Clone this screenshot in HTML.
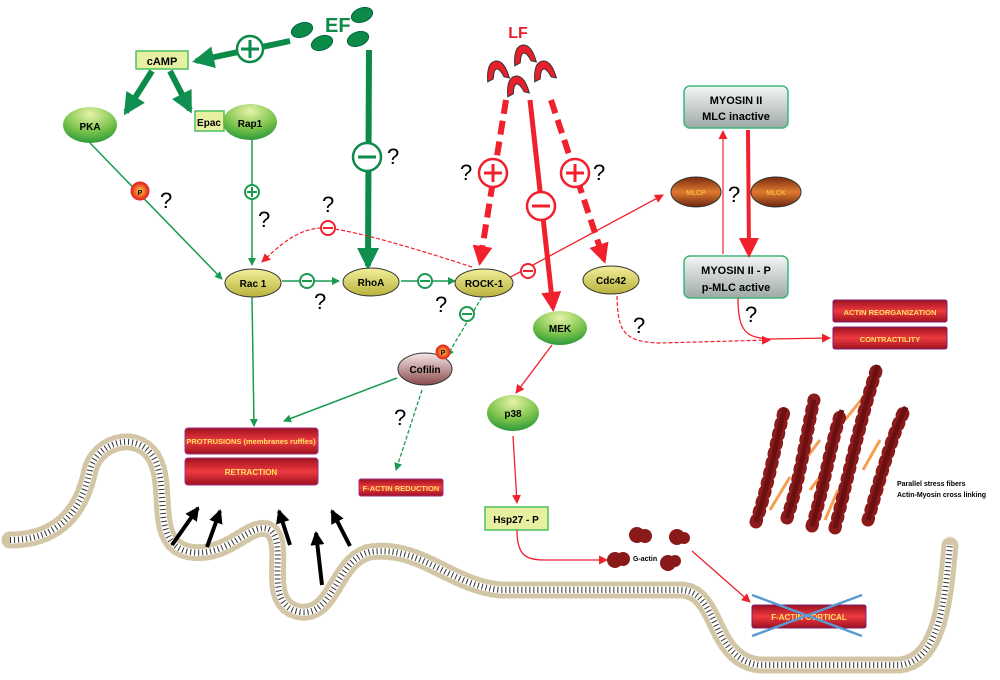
<!DOCTYPE html>
<html><head><meta charset="utf-8"><style>
body{margin:0;background:#fff}
svg{display:block;font-family:"Liberation Sans",sans-serif}
.b{font-weight:bold}
</style></head><body>
<svg width="1000" height="680" viewBox="0 0 1000 680" xmlns="http://www.w3.org/2000/svg">
<defs>
<path id="mem" d="M10,540 C50,540 80,520 90,470 C98,440 140,430 155,460 C170,490 150,545 190,552 C230,558 250,520 270,530 C290,545 260,605 300,612 C335,616 335,560 370,552 C420,545 450,585 500,590 L680,590 C720,590 710,660 760,665 L900,665 C940,660 945,600 950,545"/>
<radialGradient id="gg" cx="50%" cy="20%" r="80%"><stop offset="0" stop-color="#e6f3a8"/><stop offset="0.6" stop-color="#7cc44c"/><stop offset="1" stop-color="#2d9a3a"/></radialGradient>
<linearGradient id="yg" x1="0" y1="0" x2="0" y2="1"><stop offset="0" stop-color="#f2ef9a"/><stop offset="1" stop-color="#b8b23c"/></linearGradient>
<linearGradient id="bg" x1="0" y1="0" x2="0" y2="1"><stop offset="0" stop-color="#7a2a10"/><stop offset="0.5" stop-color="#e07a30"/><stop offset="1" stop-color="#6a2510"/></linearGradient>
<linearGradient id="rg" x1="0" y1="0" x2="0" y2="1"><stop offset="0" stop-color="#9e1020"/><stop offset="0.5" stop-color="#ee3a3f"/><stop offset="1" stop-color="#9e1020"/></linearGradient>
<linearGradient id="sg" x1="0" y1="0" x2="0" y2="1"><stop offset="0" stop-color="#f4f6f6"/><stop offset="1" stop-color="#9ea9a8"/></linearGradient>
<linearGradient id="cg" x1="0" y1="0" x2="0" y2="1"><stop offset="0" stop-color="#f6e8e8"/><stop offset="1" stop-color="#8a4a4a"/></linearGradient>
<radialGradient id="pg"><stop offset="0" stop-color="#ffd040"/><stop offset="1" stop-color="#e02020"/></radialGradient>
<marker id="ag" markerWidth="8" markerHeight="8" refX="7" refY="4" orient="auto" markerUnits="userSpaceOnUse"><path d="M0,0L8,4L0,8z" fill="#1a9a50"/></marker>
<marker id="gB" markerWidth="22" markerHeight="22" refX="18" refY="11" orient="auto" markerUnits="userSpaceOnUse"><path d="M0,0L22,11L0,22z" fill="#109050"/></marker>
<marker id="ar" markerWidth="9" markerHeight="9" refX="8" refY="4.5" orient="auto" markerUnits="userSpaceOnUse"><path d="M0,0L9,4.5L0,9z" fill="#f0202c"/></marker>
<marker id="rB" markerWidth="20" markerHeight="20" refX="16" refY="10" orient="auto" markerUnits="userSpaceOnUse"><path d="M0,0L20,10L0,20z" fill="#f0202c"/></marker>
<marker id="ak" markerWidth="14" markerHeight="14" refX="12" refY="7" orient="auto" markerUnits="userSpaceOnUse"><path d="M0,0L14,7L0,14z" fill="#000"/></marker>
</defs>

<!-- membrane -->
<g fill="none">
<use href="#mem" stroke="#ebe3cf" stroke-width="17" stroke-linecap="round"/>
<use href="#mem" stroke="#d2c6a6" stroke-width="17" stroke-dasharray="1 5" stroke-linecap="round"/>
<use href="#mem" stroke="#fff" stroke-width="7"/>
<use href="#mem" stroke="#333" stroke-width="6" stroke-dasharray="1 3"/>
</g>

<!-- EF -->
<g fill="#0b8a48" stroke="#064" stroke-width="1">
<ellipse cx="302" cy="30" rx="11" ry="7" transform="rotate(-20 302 30)"/>
<ellipse cx="322" cy="43" rx="11" ry="7" transform="rotate(-20 322 43)"/>
<ellipse cx="362" cy="15" rx="11" ry="7" transform="rotate(-20 362 15)"/>
<ellipse cx="358" cy="39" rx="11" ry="7" transform="rotate(-20 358 39)"/>
</g>
<text x="325" y="32" class="b" font-size="20" fill="#0b8a48">EF</text>

<line x1="290" y1="41" x2="196" y2="61" stroke="#0b8a48" stroke-width="6" marker-end="url(#gB)"/>
<circle cx="250" cy="49" r="13" fill="#fff" stroke="#0b8a48" stroke-width="2.5"/>
<path d="M241,49h18M250,40v18" stroke="#0b8a48" stroke-width="3"/>
<rect x="136" y="51" width="52" height="18" fill="#e6f0a0" stroke="#4cc060" stroke-width="1.5"/>
<text x="162" y="65" class="b" font-size="11" text-anchor="middle">cAMP</text>
<line x1="152" y1="71" x2="126" y2="112" stroke="#0b8a48" stroke-width="6" marker-end="url(#gB)"/>
<line x1="170" y1="71" x2="190" y2="110" stroke="#0b8a48" stroke-width="6" marker-end="url(#gB)"/>

<ellipse cx="90" cy="125" rx="27" ry="18" fill="url(#gg)"/>
<text x="90" y="130" class="b" font-size="10" text-anchor="middle">PKA</text>
<rect x="195" y="111" width="29" height="20" fill="#e6f0a0" stroke="#4cc060" stroke-width="1.5"/>
<text x="209" y="126" class="b" font-size="10" text-anchor="middle">Epac</text>
<ellipse cx="250" cy="122" rx="27" ry="18" fill="url(#gg)"/>
<text x="250" y="127" class="b" font-size="10" text-anchor="middle">Rap1</text>

<line x1="90" y1="143" x2="222" y2="279" stroke="#1a9a50" stroke-width="1.5" marker-end="url(#ag)"/>
<circle cx="140" cy="191" r="9" fill="url(#pg)" stroke="#e03020"/>
<text x="140" y="195" class="b" font-size="7" text-anchor="middle">P</text>
<text x="160" y="208" font-size="22">?</text>
<line x1="252" y1="140" x2="252" y2="265" stroke="#1a9a50" stroke-width="1.5" marker-end="url(#ag)"/>
<circle cx="252" cy="192" r="7" fill="#fff" stroke="#1a9a50" stroke-width="2"/>
<path d="M247,192h10M252,187v10" stroke="#1a9a50" stroke-width="2"/>
<text x="258" y="227" font-size="22">?</text>

<line x1="369" y1="50" x2="368" y2="266" stroke="#0b8a48" stroke-width="6" marker-end="url(#gB)"/>
<circle cx="367" cy="157" r="14" fill="#fff" stroke="#0b8a48" stroke-width="2.5"/>
<path d="M358,157h18" stroke="#0b8a48" stroke-width="3"/>
<text x="387" y="164" font-size="22">?</text>

<path d="M472,267 C420,250 360,232 328,228 C300,226 280,245 262,262" fill="none" stroke="#f0202c" stroke-width="1.2" stroke-dasharray="4 2" marker-end="url(#ar)"/>
<circle cx="328" cy="228" r="7" fill="#fff" stroke="#f0202c" stroke-width="2"/>
<path d="M323,228h10" stroke="#f0202c" stroke-width="2"/>
<text x="322" y="212" font-size="22">?</text>

<line x1="282" y1="281" x2="339" y2="281" stroke="#1a9a50" stroke-width="1.5" marker-end="url(#ag)"/>
<circle cx="307" cy="281" r="7" fill="#fff" stroke="#1a9a50" stroke-width="2"/>
<path d="M302,281h10" stroke="#1a9a50" stroke-width="2"/>
<text x="314" y="309" font-size="22">?</text>
<line x1="401" y1="281" x2="455" y2="281" stroke="#1a9a50" stroke-width="1.5" marker-end="url(#ag)"/>
<circle cx="425" cy="281" r="7" fill="#fff" stroke="#1a9a50" stroke-width="2"/>
<path d="M420,281h10" stroke="#1a9a50" stroke-width="2"/>

<ellipse cx="253" cy="283" rx="28" ry="14" fill="url(#yg)" stroke="#333"/>
<text x="253" y="287" class="b" font-size="10" text-anchor="middle">Rac 1</text>
<ellipse cx="371" cy="282" rx="28" ry="14" fill="url(#yg)" stroke="#333"/>
<text x="371" y="286" class="b" font-size="10" text-anchor="middle">RhoA</text>

<text x="518" y="38" class="b" font-size="16" fill="#e8202c" text-anchor="middle">LF</text>
<g fill="#e8202c" stroke="#333" stroke-width="1">
<path id="lfs" d="M-11,9 Q-9,-10 0,-10 Q9,-10 11,9 L6,7 Q3,-2 0,-2 Q-3,-2 -5,7 Z" transform="translate(497,71) rotate(-10)"/>
<use href="#lfs" transform="translate(27,-16)"/>
<use href="#lfs" transform="translate(47,0)"/>
<use href="#lfs" transform="translate(20,15)"/>
</g>

<line x1="506" y1="100" x2="480" y2="262" stroke="#f0202c" stroke-width="6" stroke-dasharray="14 7" marker-end="url(#rB)"/>
<circle cx="493" cy="173" r="14" fill="#fff" stroke="#f0202c" stroke-width="2.5"/>
<path d="M484,173h18M493,164v18" stroke="#f0202c" stroke-width="3"/>
<text x="460" y="180" font-size="22">?</text>
<line x1="530" y1="100" x2="553" y2="308" stroke="#f0202c" stroke-width="5" marker-end="url(#rB)"/>
<circle cx="541" cy="206" r="14" fill="#fff" stroke="#f0202c" stroke-width="2.5"/>
<path d="M532,206h18" stroke="#f0202c" stroke-width="3"/>
<line x1="551" y1="100" x2="604" y2="260" stroke="#f0202c" stroke-width="6" stroke-dasharray="14 7" marker-end="url(#rB)"/>
<circle cx="575" cy="173" r="14" fill="#fff" stroke="#f0202c" stroke-width="2.5"/>
<path d="M566,173h18M575,164v18" stroke="#f0202c" stroke-width="3"/>
<text x="593" y="180" font-size="22">?</text>

<line x1="505" y1="280" x2="663" y2="195" stroke="#f0202c" stroke-width="1.3" marker-end="url(#ar)"/>
<circle cx="528" cy="271" r="7" fill="#fff" stroke="#f0202c" stroke-width="2"/>
<path d="M523,271h10" stroke="#f0202c" stroke-width="2"/>

<ellipse cx="484" cy="283" rx="29" ry="14" fill="url(#yg)" stroke="#333"/>
<text x="484" y="287" class="b" font-size="10" text-anchor="middle">ROCK-1</text>
<ellipse cx="611" cy="280" rx="28" ry="14" fill="url(#yg)" stroke="#333"/>
<text x="611" y="284" class="b" font-size="10" text-anchor="middle">Cdc42</text>

<rect x="684" y="86" width="104" height="42" rx="6" fill="url(#sg)" stroke="#3cb878" stroke-width="1.5"/>
<text x="736" y="104" class="b" font-size="11" text-anchor="middle">MYOSIN II</text>
<text x="736" y="120" class="b" font-size="11" text-anchor="middle">MLC inactive</text>
<rect x="684" y="256" width="104" height="42" rx="6" fill="url(#sg)" stroke="#3cb878" stroke-width="1.5"/>
<text x="736" y="274" class="b" font-size="11" text-anchor="middle">MYOSIN II - P</text>
<text x="736" y="291" class="b" font-size="11" text-anchor="middle">p-MLC active</text>
<line x1="723" y1="254" x2="723" y2="131" stroke="#f0202c" stroke-width="1.2" marker-end="url(#ar)"/>
<line x1="748" y1="130" x2="749" y2="254" stroke="#f0202c" stroke-width="4" marker-end="url(#rB)"/>
<ellipse cx="696" cy="192" rx="25" ry="15" fill="url(#bg)" stroke="#333"/>
<text x="696" y="195" font-size="7" fill="#ffd040" text-anchor="middle">MLCP</text>
<ellipse cx="776" cy="192" rx="25" ry="15" fill="url(#bg)" stroke="#333"/>
<text x="776" y="195" font-size="7" fill="#ffd040" text-anchor="middle">MLCK</text>
<text x="728" y="202" font-size="22">?</text>

<path d="M738,298 C738,330 745,338 770,339 L830,338" fill="none" stroke="#f0202c" stroke-width="1.3" marker-end="url(#ar)"/>
<text x="745" y="322" font-size="22">?</text>
<path d="M617,296 C618,330 622,342 660,343 L770,340" fill="none" stroke="#f0202c" stroke-width="1.2" stroke-dasharray="4 2" marker-end="url(#ar)"/>
<text x="633" y="333" font-size="22">?</text>

<rect x="833" y="300" width="114" height="22" rx="2" fill="url(#rg)" stroke="#7a2070"/>
<text x="890" y="315" class="b" font-size="7.5" fill="#ffe060" text-anchor="middle">ACTIN REORGANIZATION</text>
<rect x="833" y="327" width="114" height="22" rx="2" fill="url(#rg)" stroke="#7a2070"/>
<text x="890" y="342" class="b" font-size="7.5" fill="#ffe060" text-anchor="middle">CONTRACTILITY</text>

<ellipse cx="560" cy="328" rx="27" ry="17" fill="url(#gg)"/>
<text x="560" y="332" class="b" font-size="10" text-anchor="middle">MEK</text>
<line x1="552" y1="345" x2="516" y2="393" stroke="#f0202c" stroke-width="1.3" marker-end="url(#ar)"/>
<ellipse cx="513" cy="413" rx="26" ry="18" fill="url(#gg)"/>
<text x="513" y="417" class="b" font-size="10" text-anchor="middle">p38</text>
<line x1="513" y1="436" x2="517" y2="503" stroke="#f0202c" stroke-width="1.3" marker-end="url(#ar)"/>
<rect x="485" y="507" width="63" height="23" fill="#e6f0a0" stroke="#4cc060" stroke-width="1.5"/>
<text x="516" y="523" class="b" font-size="10" text-anchor="middle">Hsp27 - P</text>
<path d="M517,530 C517,555 525,560 545,560 L607,560" fill="none" stroke="#f0202c" stroke-width="1.3" marker-end="url(#ar)"/>

<g fill="#8a1a1a">
<circle cx="615" cy="560" r="8"/><circle cx="623" cy="559" r="7"/>
<circle cx="637" cy="535" r="8"/><circle cx="645" cy="536" r="7"/>
<circle cx="677" cy="537" r="8"/><circle cx="684" cy="538" r="6"/>
<circle cx="668" cy="563" r="8"/><circle cx="675" cy="561" r="6"/>
</g>
<text x="633" y="561" font-size="7" class="b">G-actin</text>
<line x1="692" y1="551" x2="750" y2="602" stroke="#f0202c" stroke-width="1.3" marker-end="url(#ar)"/>
<rect x="752" y="605" width="114" height="23" rx="2" fill="url(#rg)" stroke="#7a2070"/>
<text x="809" y="620" class="b" font-size="8" fill="#ffe060" text-anchor="middle">F-ACTIN CORTICAL</text>
<line x1="752" y1="595" x2="862" y2="636" stroke="#5a9ad0" stroke-width="2.5"/>
<line x1="752" y1="636" x2="862" y2="595" stroke="#5a9ad0" stroke-width="2.5"/>

<g stroke="#f5a050" stroke-width="3">
<line x1="770" y1="510" x2="790" y2="477"/><line x1="805" y1="460" x2="820" y2="440"/>
<line x1="825" y1="520" x2="838" y2="490"/><line x1="845" y1="420" x2="865" y2="395"/>
<line x1="863" y1="470" x2="880" y2="440"/><line x1="810" y1="490" x2="825" y2="470"/>
</g>
<g fill="none" stroke="#8b1a1a" stroke-width="13" stroke-dasharray="2 8" stroke-linecap="round">
<path d="M756,522 C770,480 775,445 785,408"/>
<path d="M787,518 C800,480 805,440 814,400"/>
<path d="M812,526 C825,485 830,445 842,410"/>
<path d="M835,528 C850,470 860,420 878,365"/>
<path d="M868,520 C880,480 890,440 906,407"/>
</g>
<g fill="none" stroke="#6a1010" stroke-width="5">
<path d="M756,522 C770,480 775,445 785,408"/>
<path d="M787,518 C800,480 805,440 814,400"/>
<path d="M812,526 C825,485 830,445 842,410"/>
<path d="M835,528 C850,470 860,420 878,365"/>
<path d="M868,520 C880,480 890,440 906,407"/>
</g>
<text x="897" y="486" class="b" font-size="7">Parallel stress fibers</text>
<text x="897" y="497" class="b" font-size="7">Actin-Myosin cross linking</text>

<line x1="482" y1="297" x2="447" y2="356" stroke="#1a9a50" stroke-width="1.3" stroke-dasharray="4 2" marker-end="url(#ag)"/>
<circle cx="467" cy="314" r="7" fill="#fff" stroke="#1a9a50" stroke-width="2"/>
<path d="M462,314h10" stroke="#1a9a50" stroke-width="2"/>
<text x="435" y="312" font-size="22">?</text>
<ellipse cx="425" cy="369" rx="27" ry="16" fill="url(#cg)" stroke="#333"/>
<text x="425" y="373" class="b" font-size="10" text-anchor="middle">Cofilin</text>
<circle cx="443" cy="352" r="7" fill="url(#pg)" stroke="#e03020"/>
<text x="443" y="355" class="b" font-size="7" text-anchor="middle">P</text>
<line x1="397" y1="378" x2="284" y2="421" stroke="#1a9a50" stroke-width="1.5" marker-end="url(#ag)"/>
<line x1="422" y1="390" x2="396" y2="470" stroke="#1a9a50" stroke-width="1.3" stroke-dasharray="4 2" marker-end="url(#ag)"/>
<text x="394" y="425" font-size="22">?</text>

<line x1="252" y1="297" x2="254" y2="426" stroke="#1a9a50" stroke-width="1.5" marker-end="url(#ag)"/>
<rect x="185" y="428" width="133" height="26" rx="3" fill="url(#rg)" stroke="#a03080"/>
<text x="251" y="444" class="b" font-size="7.5" fill="#ffe060" text-anchor="middle">PROTRUSIONS (membranes ruffles)</text>
<rect x="185" y="458" width="133" height="27" rx="3" fill="url(#rg)" stroke="#a03080"/>
<text x="251" y="475" class="b" font-size="8" fill="#ffe060" text-anchor="middle">RETRACTION</text>
<rect x="359" y="479" width="84" height="17" rx="2" fill="url(#rg)" stroke="#a03080"/>
<text x="401" y="491" class="b" font-size="7.5" fill="#ffe060" text-anchor="middle">F-ACTIN REDUCTION</text>

<g stroke="#000" stroke-width="4">
<line x1="172" y1="545" x2="198" y2="508" marker-end="url(#ak)"/>
<line x1="207" y1="547" x2="220" y2="511" marker-end="url(#ak)"/>
<line x1="290" y1="545" x2="279" y2="511" marker-end="url(#ak)"/>
<line x1="322" y1="585" x2="316" y2="533" marker-end="url(#ak)"/>
<line x1="350" y1="546" x2="332" y2="511" marker-end="url(#ak)"/>
</g>
</svg>
</body></html>
